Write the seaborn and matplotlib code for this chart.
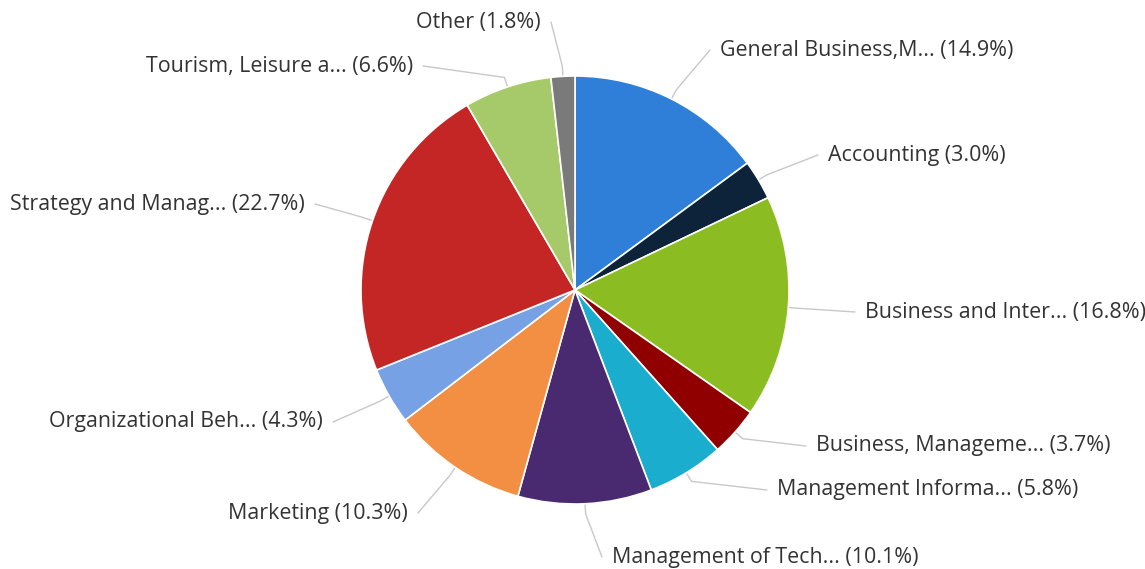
import numpy as np
import matplotlib
matplotlib.use('Agg')
import matplotlib.pyplot as plt
import seaborn as sns

# data
labels = ['General Business,M...', 'Accounting', 'Business and Inter...',
          'Business, Manageme...', 'Management Informa...', 'Management of Tech...',
          'Marketing', 'Organizational Beh...', 'Strategy and Manag...',
          'Tourism, Leisure a...', 'Other']
shares = [14.9, 3.0, 16.8, 3.7, 5.8, 10.1, 10.3, 4.3, 22.7, 6.6, 1.8]
colors = ['#2f7ed8', '#0d233a', '#8bbc21', '#910000', '#1aadce', '#492970',
          '#f28f43', '#77a1e5', '#c42525', '#a6c96a', '#7a7a7a']

# label layout in pixel coords (x, y from top, side)
label_pos = [(720, 50, 'left'), (828, 155, 'left'), (865, 312, 'left'),
             (816, 446, 'left'), (777, 490, 'left'), (612, 557, 'left'),
             (408, 513, 'right'), (323, 422, 'right'), (305, 204, 'right'),
             (413, 66, 'right'), (541, 22, 'right')]

sns.set_style('white')
plt.rcParams['font.family'] = ['Open Sans', 'DejaVu Sans']

W, H = 1145, 569
fig = plt.figure(figsize=(W / 100, H / 100), dpi=100)
ax = fig.add_axes([0, 0, 1, 1])

cx, cy, r = 575, H - 290, 214
ax.pie(shares, colors=colors, startangle=90, counterclock=False,
       center=(cx, cy), radius=r,
       wedgeprops=dict(edgecolor='white', linewidth=1.2))

# labels and connectors
cum = np.cumsum([0] + shares[:-1])
for lab, s, c0, (lx, ly, side) in zip(labels, shares, cum, label_pos):
    ang = np.deg2rad((c0 + s / 2) / 100 * 360)
    ex, ey = cx + r * np.sin(ang), cy + r * np.cos(ang)
    ox, oy = cx + (r + 10) * np.sin(ang), cy + (r + 10) * np.cos(ang)
    ty = H - ly
    gap = -10 if side == 'left' else 10
    ax.plot([ex, ox, lx + gap], [ey, oy, ty], color='#c8c8c8', lw=1, zorder=0)
    ax.text(lx, ty, f'{lab} ({s:.1f}%)', ha=side, va='center',
            fontsize=15.4, color='#333333')

ax.set_xlim(0, W)
ax.set_ylim(0, H)
ax.set_aspect('equal')
ax.axis('off')
fig.savefig('out.png', dpi=100, facecolor='white')
